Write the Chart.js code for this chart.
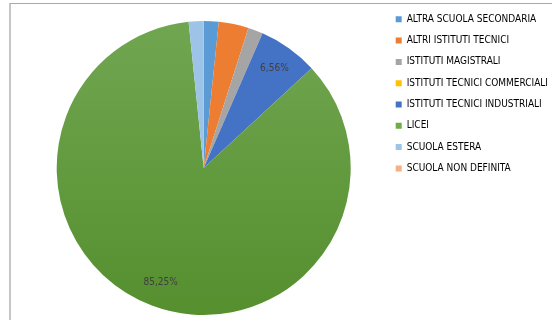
<!DOCTYPE html>
<html>
<head>
<meta charset="utf-8">
<script src="https://cdn.jsdelivr.net/npm/chart.js"></script>
<style>
  html, body { margin: 0; padding: 0; background: #fff; overflow: hidden; }
  #wrap { position: relative; width: 552px; height: 336px; }
  #frame { position: absolute; left: 9px; top: 3px; right: 0; bottom: 0;
           border-top: 1px solid #a9a9a9; border-left: 2px solid #c6c6c6; }
  #myChart { position: absolute; left: 0; top: 0; }
</style>
</head>
<body>
<div id="wrap">
  <div id="frame"></div>
  <canvas id="myChart" width="552" height="336"></canvas>
</div>
<script>
// school types (legend order = slice order, clockwise from 12 o'clock)
const categories = [
  "ALTRA SCUOLA SECONDARIA",
  "ALTRI ISTITUTI TECNICI",
  "ISTITUTI MAGISTRALI",
  "ISTITUTI TECNICI COMMERCIALI",
  "ISTITUTI TECNICI INDUSTRIALI",
  "LICEI",
  "SCUOLA ESTERA",
  "SCUOLA NON DEFINITA"
];
// number of students per school type
const students = [1, 2, 1, 0, 4, 52, 1, 0];
const colors = ["#5B9BD5", "#ED7D31", "#A5A5A5", "#FFC000", "#4472C4", "#70AD47", "#9DC3E6", "#F4B183"];

const labelFont = '"Liberation Sans Narrow", "DejaVu Sans Condensed", sans-serif';

// percent labels on the big slices
const pctLabels = {
  id: "pctLabels",
  afterDatasetsDraw(chart) {
    const ctx = chart.ctx;
    const meta = chart.getDatasetMeta(0);
    const total = students.reduce((a, b) => a + b, 0);
    ctx.save();
    ctx.font = "10px " + labelFont;
    ctx.fillStyle = "#404040";
    ctx.textAlign = "center";
    ctx.textBaseline = "middle";
    meta.data.forEach((arc, i) => {
      const pct = students[i] / total * 100;
      if (pct < 5) return;
      const p = arc.getProps(["x", "y", "startAngle", "endAngle", "outerRadius"], true);
      const mid = (p.startAngle + p.endAngle) / 2;
      const r = p.outerRadius * 0.83;
      ctx.fillText(pct.toFixed(2).replace(".", ",") + "%", p.x + Math.cos(mid) * r, p.y + Math.sin(mid) * r);
    });
    ctx.restore();
  }
};

function sliceColor(context) {
  const chart = context.chart;
  const i = context.dataIndex;
  if (i !== 5 || !chart.chartArea) return colors[i];
  const g = chart.ctx.createLinearGradient(0, 21, 0, 315);
  g.addColorStop(0, "#71A651");
  g.addColorStop(1, "#558F2E");
  return g;
}

const myChart = new Chart(document.getElementById("myChart"), {
  type: "pie",
  data: {
    labels: categories,
    datasets: [{
      data: students,
      backgroundColor: sliceColor,
      borderWidth: 0,
      radius: 147
    }]
  },
  options: {
    responsive: false,
    animation: false,
    layout: { padding: { top: 3, bottom: 3, left: 23, right: -6 } },
    plugins: {
      tooltip: { enabled: false },
      legend: {
        position: "right",
        align: "start",
        labels: {
          color: "#595959",
          font: { family: labelFont, size: 10 },
          boxWidth: 6,
          boxHeight: 6,
          padding: 11.3,
          generateLabels(chart) {
            return categories.map((name, i) => ({
              text: name,
              fillStyle: colors[i],
              strokeStyle: colors[i],
              lineWidth: 0,
              hidden: false,
              index: i
            }));
          }
        }
      }
    }
  },
  plugins: [pctLabels]
});
</script>
</body>
</html>
